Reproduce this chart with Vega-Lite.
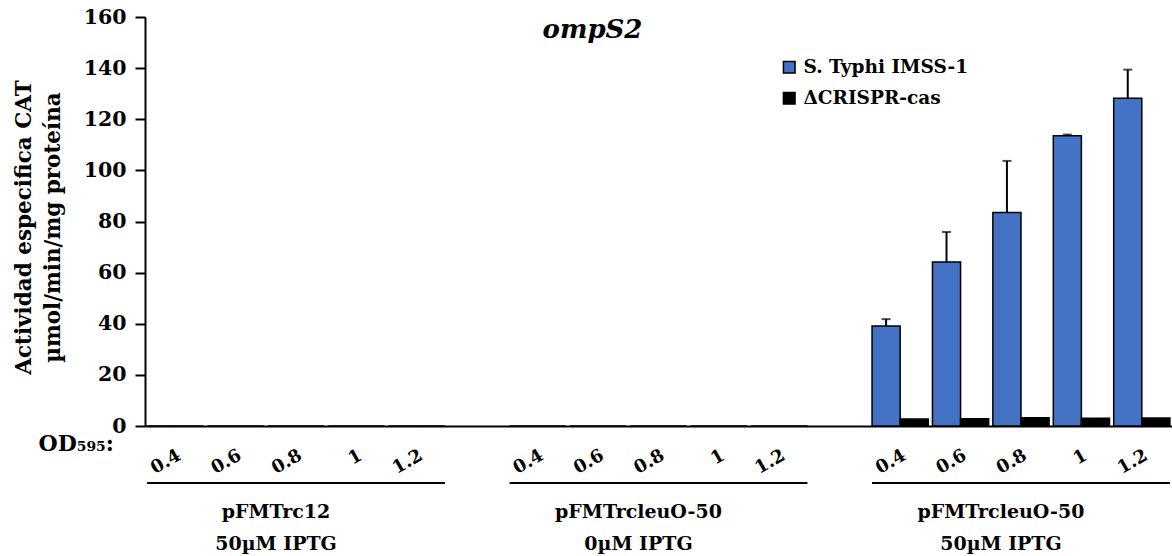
{
  "$schema": "https://vega.github.io/schema/vega-lite/v6.json",
  "width": 1027,
  "height": 409,
  "autosize": "none",
  "padding": {"left": 145, "top": 17, "right": 0, "bottom": 130},
  "background": "white",
  "config": {"font": "DejaVu Serif", "view": {"stroke": null}, "axis": {"grid": false}},
  "title": {"text": "ompS2", "font": "DejaVu Serif", "fontStyle": "italic", "fontWeight": "bold", "fontSize": 26, "color": "black", "anchor": "middle", "dx": -66, "offset": -36},
  "datasets": {
    "bars": [
      {"slot": "1|0.4", "series": "S. Typhi IMSS-1", "value": 0},
      {"slot": "1|0.6", "series": "S. Typhi IMSS-1", "value": 0},
      {"slot": "1|0.8", "series": "S. Typhi IMSS-1", "value": 0},
      {"slot": "1|1", "series": "S. Typhi IMSS-1", "value": 0},
      {"slot": "1|1.2", "series": "S. Typhi IMSS-1", "value": 0},
      {"slot": "1|0.4", "series": "ΔCRISPR-cas", "value": 0},
      {"slot": "1|0.6", "series": "ΔCRISPR-cas", "value": 0},
      {"slot": "1|0.8", "series": "ΔCRISPR-cas", "value": 0},
      {"slot": "1|1", "series": "ΔCRISPR-cas", "value": 0},
      {"slot": "1|1.2", "series": "ΔCRISPR-cas", "value": 0},
      {"slot": "2|0.4", "series": "S. Typhi IMSS-1", "value": 0},
      {"slot": "2|0.6", "series": "S. Typhi IMSS-1", "value": 0},
      {"slot": "2|0.8", "series": "S. Typhi IMSS-1", "value": 0},
      {"slot": "2|1", "series": "S. Typhi IMSS-1", "value": 0},
      {"slot": "2|1.2", "series": "S. Typhi IMSS-1", "value": 0},
      {"slot": "2|0.4", "series": "ΔCRISPR-cas", "value": 0},
      {"slot": "2|0.6", "series": "ΔCRISPR-cas", "value": 0},
      {"slot": "2|0.8", "series": "ΔCRISPR-cas", "value": 0},
      {"slot": "2|1", "series": "ΔCRISPR-cas", "value": 0},
      {"slot": "2|1.2", "series": "ΔCRISPR-cas", "value": 0},
      {"slot": "3|0.4", "series": "S. Typhi IMSS-1", "value": 39.1, "top": 41.8},
      {"slot": "3|0.6", "series": "S. Typhi IMSS-1", "value": 64.2, "top": 75.9},
      {"slot": "3|0.8", "series": "S. Typhi IMSS-1", "value": 83.5, "top": 103.7},
      {"slot": "3|1", "series": "S. Typhi IMSS-1", "value": 113.5, "top": 114.0},
      {"slot": "3|1.2", "series": "S. Typhi IMSS-1", "value": 128.2, "top": 139.4},
      {"slot": "3|0.4", "series": "ΔCRISPR-cas", "value": 2.7},
      {"slot": "3|0.6", "series": "ΔCRISPR-cas", "value": 2.8},
      {"slot": "3|0.8", "series": "ΔCRISPR-cas", "value": 3.2},
      {"slot": "3|1", "series": "ΔCRISPR-cas", "value": 3.0},
      {"slot": "3|1.2", "series": "ΔCRISPR-cas", "value": 3.1}
    ],
    "groups": [
      {"first": "1|0.4", "mid": "1|0.8", "last": "1|1.2", "label": "pFMTrc12\n50µM IPTG"},
      {"first": "2|0.4", "mid": "2|0.8", "last": "2|1.2", "label": "pFMTrcleuO-50\n0µM IPTG"},
      {"first": "3|0.4", "mid": "3|0.8", "last": "3|1.2", "label": "pFMTrcleuO-50\n50µM IPTG"}
    ]
  },
  "layer": [
    {
      "data": {"name": "bars"},
      "mark": {"type": "bar", "stroke": "black", "strokeWidth": 1.5},
      "encoding": {
        "x": {
          "field": "slot", "type": "nominal", "sort": null,
          "scale": {"domain": ["1|0.4","1|0.6","1|0.8","1|1","1|1.2","gap1","2|0.4","2|0.6","2|0.8","2|1","2|1.2","gap2","3|0.4","3|0.6","3|0.8","3|1","3|1.2"], "paddingInner": 0.07, "paddingOuter": 0.035},
          "axis": {
            "title": "OD₅₉₅:", "titleX": -107, "titleY": 17, "titleAlign": "left", "titleBaseline": "middle", "titleAngle": 0,
            "titleFontSize": 22, "titleFontWeight": "bold", "titleColor": "black", "titleFont": "DejaVu Serif",
            "labelExpr": "indexof(datum.value,'gap') >= 0 ? '' : split(datum.value,'|')[1]",
            "labelAngle": -30, "labelFontSize": 18, "labelFontWeight": "bold", "labelColor": "black", "labelPadding": 20, "labelFont": "DejaVu Serif",
            "ticks": false, "domainColor": "black", "domainWidth": 2
          }
        },
        "xOffset": {"field": "series", "type": "nominal", "scale": {"domain": ["S. Typhi IMSS-1", "ΔCRISPR-cas"], "paddingInner": 0, "paddingOuter": 0}},
        "y": {
          "field": "value", "type": "quantitative",
          "scale": {"domain": [0, 160], "nice": false},
          "axis": {
            "values": [0, 20, 40, 60, 80, 100, 120, 140, 160],
            "title": ["Actividad especifica CAT", "µmol/min/mg proteína"],
            "titleFont": "DejaVu Serif", "titleFontSize": 21.5, "titleFontWeight": "bold", "titleColor": "black", "titleLineHeight": 29,
            "titleX": -110, "titleY": 210, "titleAngle": -90, "titleAlign": "center", "titleBaseline": "bottom",
            "labelFont": "DejaVu Serif", "labelFontSize": 20.5, "labelFontWeight": "bold", "labelColor": "black", "labelPadding": 9,
            "tickSize": 10, "tickColor": "black", "tickWidth": 2, "domainColor": "black", "domainWidth": 2
          }
        },
        "color": {
          "field": "series", "type": "nominal",
          "scale": {"domain": ["S. Typhi IMSS-1", "ΔCRISPR-cas"], "range": ["#4472C4", "#000000"]},
          "legend": {
            "title": null, "orient": "none", "legendX": 635, "legendY": 41,
            "symbolType": "square", "symbolSize": 135, "symbolStrokeColor": "black", "symbolStrokeWidth": 1.5,
            "labelFont": "DejaVu Serif", "labelFontSize": 18.5, "labelFontWeight": "bold", "labelColor": "black", "labelOffset": 5, "rowPadding": 12, "labelLimit": 300
          }
        }
      }
    },
    {
      "data": {"name": "bars"},
      "transform": [{"filter": "isValid(datum.top)"}],
      "mark": {"type": "rule", "color": "black", "strokeWidth": 2},
      "encoding": {
        "x": {"field": "slot", "type": "nominal", "sort": null},
        "xOffset": {"field": "series", "type": "nominal"},
        "y": {"field": "value", "type": "quantitative"},
        "y2": {"field": "top"}
      }
    },
    {
      "data": {"name": "bars"},
      "transform": [{"filter": "isValid(datum.top)"}],
      "mark": {"type": "tick", "color": "black", "size": 9, "thickness": 2, "orient": "horizontal"},
      "encoding": {
        "x": {"field": "slot", "type": "nominal", "sort": null},
        "xOffset": {"field": "series", "type": "nominal"},
        "y": {"field": "top", "type": "quantitative"}
      }
    },
    {
      "data": {"name": "groups"},
      "mark": {"type": "rule", "color": "black", "strokeWidth": 2, "clip": false},
      "encoding": {
        "x": {"field": "first", "type": "nominal", "bandPosition": 0},
        "x2": {"field": "last", "bandPosition": 1},
        "y": {"datum": -22.3, "type": "quantitative"}
      }
    },
    {
      "data": {"name": "groups"},
      "mark": {"type": "text", "color": "black", "font": "DejaVu Serif", "fontSize": 19, "fontWeight": "bold", "align": "center", "baseline": "top", "lineBreak": "\n", "lineHeight": 32, "dx": -20},
      "encoding": {
        "x": {"field": "mid", "type": "nominal"},
        "y": {"datum": -30, "type": "quantitative"},
        "text": {"field": "label"}
      }
    }
  ]
}
